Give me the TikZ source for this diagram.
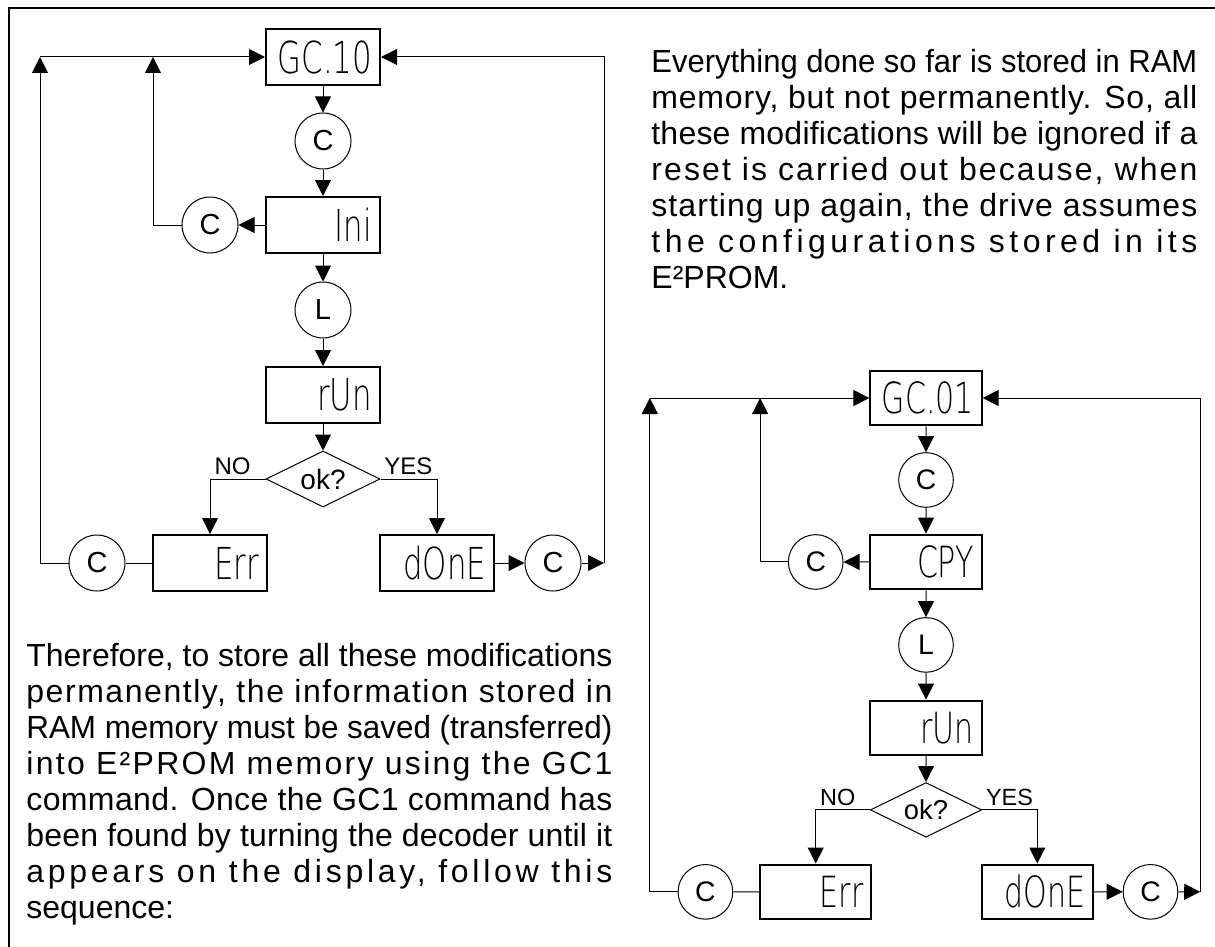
\documentclass[tikz,border=0pt]{standalone}
\usepackage{fontspec}
\setmainfont{Liberation Sans}
\newfontfamily\segfont{DejaVu Sans ExtraLight}[FakeStretch=0.7]
\usetikzlibrary{arrows.meta, shapes.geometric}

\newlength\fitw
\newlength\fitx
\newcommand\fitline[2]{\settowidth\fitw{#2}%
  \ifdim\fitw>#1\relax
    \resizebox{#1}{\height}{#2}%
  \else
    \settowidth\fitx{\addfontfeature{LetterSpace=10}#2}%
    \edef\fitcmd{\noexpand\addfontfeature{LetterSpace=\fpeval{round(10*(#1-\fitw)/(\fitx-\fitw),3)}}}%
    \makebox[#1][l]{\fitcmd#2}%
  \fi}

\begin{document}
\begin{tikzpicture}[x=0.5pt, y=-0.5pt,
  display/.style={draw, rectangle, line width=1pt, minimum width=57pt,
                  minimum height=28pt, inner sep=4pt, text width=49pt,
                  align=right, font=\segfont\fontsize{22}{22}\selectfont},
  key/.style={draw, circle, line width=0.5pt, minimum size=28pt,
              inner sep=0pt, font=\fontsize{14.5}{14.5}\selectfont},
  test/.style={draw, diamond, aspect=2, line width=0.5pt, minimum width=57pt,
               minimum height=28pt, inner sep=0pt,
               font=\fontsize{14}{14}\selectfont},
  branch/.style={inner sep=2pt, font=\fontsize{12}{12}\selectfont},
  flow/.style={line width=0.5pt, -{Triangle[length=8pt, width=8pt]}},
  link/.style={line width=0.5pt},
  para/.style={anchor=north west, inner sep=0pt, align=left,
               font=\fontsize{16}{18}\selectfont}]
  \useasboundingbox (0,0) rectangle (1215,947);
  % moldura
  \draw[line width=1.2pt] (9,947) -- (9,8) -- (1215,8);

  % textos
  \node[para] (notice) at (651,49) {%
    \fitline{273pt}{Everything done so far is stored in RAM}\\
    \fitline{273pt}{memory, but not permanently. So, all}\\
    \fitline{273pt}{these modifications will be ignored if a}\\
    \fitline{273pt}{reset is carried out because, when}\\
    \fitline{273pt}{starting up again, the drive assumes}\\
    \fitline{273pt}{the configurations stored in its}\\
    E²PROM.};
  \node[para] (therefore) at (26,643) {%
    \fitline{293pt}{Therefore, to store all these modifications}\\
    \fitline{293pt}{permanently, the information stored in}\\
    \fitline{293pt}{RAM memory must be saved (transferred)}\\
    \fitline{293pt}{into E²PROM memory using the GC1}\\
    \fitline{293pt}{command. Once the GC1 command has}\\
    \fitline{293pt}{been found by turning the decoder until it}\\
    \fitline{293pt}{appears on the display, follow this}\\
    sequence:};

  % fluxogramas
  \foreach \p/\cx/\cy/\s/\dispA/\dispB in
      {a/323/57/1/GC.10/Ini, b/926/398/0.976/GC.01/CPY}{
    \begin{scope}[shift={(\cx,\cy)}, scale=\s, transform shape]
      \node[display] (\p-top) at (0,0) {\dispA};
      \node[key] (\p-c1) at (0,84) {C};
      \node[display] (\p-mid) at (0,168) {\dispB};
      \node[key] (\p-c2) at (-113,168) {C};
      \node[key] (\p-l) at (0,253) {L};
      \node[display] (\p-run) at (0,338) {rUn};
      \node[test] (\p-ok) at (0,422) {ok?};
      \node[display] (\p-err) at (-113,506) {Err};
      \node[display] (\p-done) at (114,506) {dOnE};
      \node[key] (\p-c3) at (-226,506) {C};
      \node[key] (\p-c4) at (230,506) {C};
      \coordinate (\p-back1) at (-283,0);
      \coordinate (\p-back2) at (-170,0);
      \coordinate (\p-back3) at (281,506);
      % setas
      \draw[flow] (\p-top) -- (\p-c1);
      \draw[flow] (\p-c1) -- (\p-mid);
      \draw[flow] (\p-mid) -- (\p-l);
      \draw[flow] (\p-l) -- (\p-run);
      \draw[flow] (\p-run) -- (\p-ok);
      \draw[flow] (\p-ok.west) -| node[branch, pos=0.5, anchor=south west] {NO} (\p-err.north);
      \draw[flow] (\p-ok.east) -| node[branch, pos=0.5, anchor=south east] {YES} (\p-done.north);
      \draw[flow] (\p-mid) -- (\p-c2);
      \draw[flow] (\p-c2) -| (\p-back2);
      \draw[link] (\p-err) -- (\p-c3);
      \draw[flow] (\p-c3) -| (\p-back1);
      \draw[flow] (\p-back1) -- (\p-top);
      \draw[flow] (\p-done) -- (\p-c4);
      \draw[flow] (\p-c4) -- (\p-back3);
      \draw[flow] (\p-back3) |- (\p-top);
    \end{scope}
  }
\end{tikzpicture}
\end{document}
